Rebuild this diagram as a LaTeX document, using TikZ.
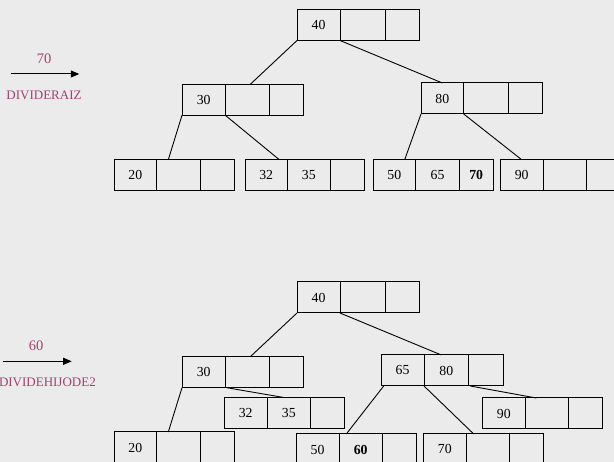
\documentclass[tikz,border=0pt]{standalone}
\usepackage{fontspec}
\setmainfont{Liberation Serif}
\usetikzlibrary{arrows.meta,calc}
\definecolor{bg}{HTML}{EBEBEB}
\definecolor{labc}{HTML}{A0426E}
\newcommand{\trip}[9]{%
 \node[cell,minimum width=#4pt] (#1a) at (#2,#3) {#7};
 \node[cell,minimum width=#5pt] (#1b) at (#1a.north east) {#8};
 \node[cell,minimum width=#6pt] (#1c) at (#1b.north east) {#9};}
\begin{document}
\begin{tikzpicture}[x=1pt,y=-1pt,
  cell/.style={draw, rectangle, inner sep=0pt, outer sep=0pt, minimum height=31pt,
    anchor=north west, line width=1pt, font=\fontsize{13.8}{16}\selectfont},
  link/.style={line width=0.9pt},
  numlab/.style={text=labc, inner sep=0pt, font=\fontsize{14.5}{16}\selectfont},
  oplab/.style={text=labc, inner sep=0pt, font=\fontsize{13}{15}\selectfont},
  opar/.style={line width=1pt, -{Triangle[length=8.5pt,width=7pt]}}]
\fill[bg] (0,0) rectangle (614,462);
\useasboundingbox (0,0) rectangle (614,462);
% ---------- top tree ----------
\trip{R1}{297}{9.5}{43}{45}{34}{40}{}{}
\trip{A1}{182}{84.3}{43.3}{44}{34.4}{30}{}{}
\trip{B1}{421}{83}{42.7}{44.3}{34.3}{80}{}{}
\trip{C1}{114}{159.7}{42.7}{43.3}{34}{20}{}{}
\trip{D1}{245}{159.7}{42.3}{43}{34.4}{32}{35}{}
\trip{E1}{373}{159.7}{42.7}{43.6}{33.7}{50}{65}{\textbf{70}}
\trip{F1}{500.3}{159.7}{42.7}{43.3}{34}{90}{}{}
\draw[link] (R1a.south west) -- ([xshift=3pt]A1b.north);
\draw[link] (R1a.south east) -- (B1a.north);
\draw[link] (A1a.south west) -- ([xshift=11.6pt]C1b.north west);
\draw[link] (A1a.south east) -- ([xshift=-8pt]D1a.north east);
\draw[link] (B1a.south west) -- ([xshift=-11pt]E1a.north east);
\draw[link] (B1a.south east) -- (F1a.north);
% ---------- bottom tree ----------
\trip{R2}{297}{282}{43}{45}{34}{40}{}{}
\trip{A2}{182}{356.7}{43.3}{44}{34.4}{30}{}{}
\trip{B2}{381}{355}{43}{44.7}{34.3}{65}{80}{}
\trip{D2}{224}{397.3}{43.3}{43}{34}{32}{35}{}
\trip{F2}{482.3}{398}{43}{43}{34}{90}{}{}
\trip{C2}{114}{432}{42.7}{43.3}{34}{\raisebox{-2.5pt}{20}}{}{}
\trip{E2}{296}{434}{43}{43.3}{34}{50}{\textbf{60}}{}
\trip{G2}{423.3}{434}{43}{43}{34.4}{\raisebox{2pt}{70}}{}{}
\draw[link] (R2a.south west) -- ([xshift=3pt]A2b.north);
\draw[link] (R2a.south east) -- ([xshift=-5pt]B2b.north);
\draw[link] (A2a.south west) -- ([xshift=11.6pt]C2b.north west);
\draw[link] ([xshift=1.4pt]A2a.south east) -- ([xshift=15.4pt]D2b.north west);
\draw[link] ([xshift=2.7pt]B2a.south west) -- ([xshift=7.3pt]E2b.north west);
\draw[link] (B2a.south east) -- ([xshift=7.4pt]G2b.north west);
\draw[link] ([xshift=1.6pt]B2b.south east) -- ([xshift=11pt]F2b.north west);
% ---------- operation labels ----------
\node[numlab] (k70) at (44,59) {70};
\coordinate (s1) at (11,74);
\coordinate (e1) at (79.3,74);
\draw[opar] (s1) -- (e1);
\node[oplab] (op1) at (44,95) {DIVIDERAIZ};
\node[numlab] (k60) at (36,346) {60};
\coordinate (s2) at (3.3,361.3);
\coordinate (e2) at (71.7,361.3);
\draw[opar] (s2) -- (e2);
\node[oplab] (op2) at (47.4,382.7) {DIVIDEHIJODE2};
\end{tikzpicture}
\end{document}
